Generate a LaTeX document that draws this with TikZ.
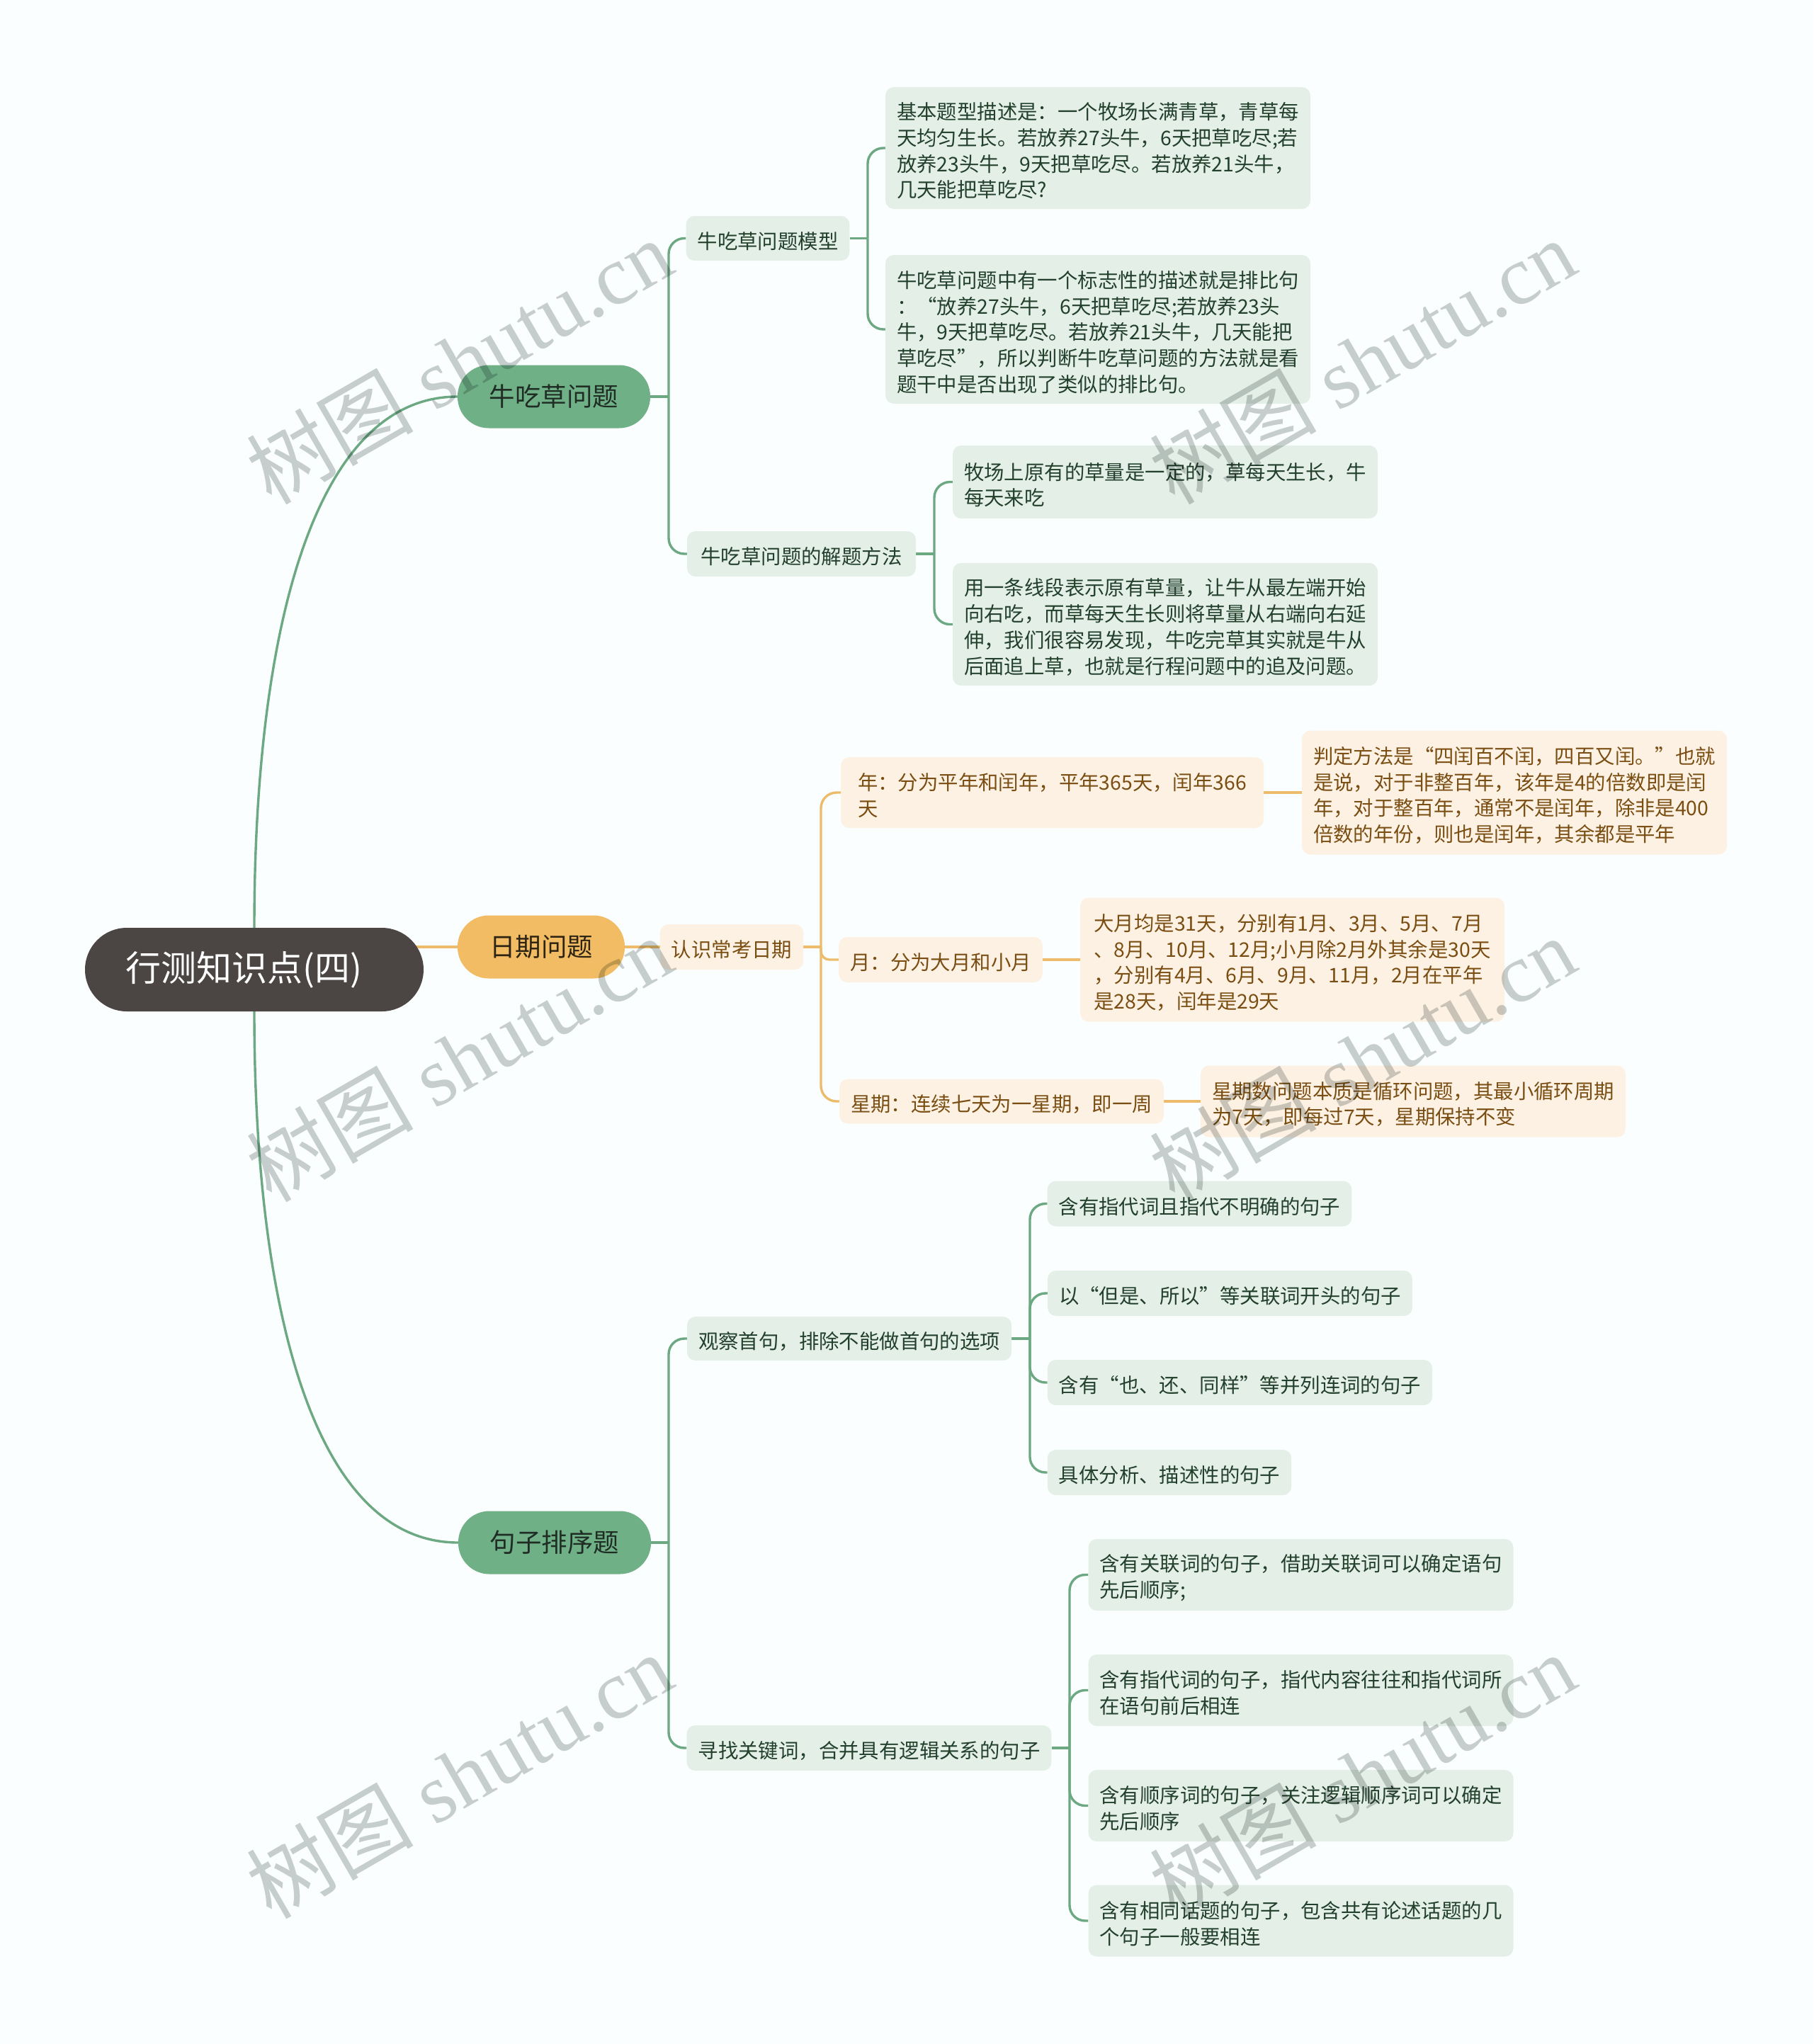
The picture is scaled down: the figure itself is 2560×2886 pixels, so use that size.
\documentclass[tikz,border=0pt]{standalone}
\usepackage{fontspec}
\setmainfont{Noto Sans CJK SC}
\newfontfamily\wmlatin{Liberation Serif}
\newfontfamily\wmcjk{Noto Sans CJK SC}
\usetikzlibrary{backgrounds}
\newcommand\tpad{\rule{0pt}{32pt}}
\definecolor{bgc}{HTML}{FBFEFE}
\definecolor{rootc}{HTML}{4B4544}
\definecolor{gpillc}{HTML}{70B087}
\definecolor{gpilltext}{HTML}{1F2D24}
\definecolor{glinec}{HTML}{6CA982}
\definecolor{gleafc}{HTML}{E4EFE7}
\definecolor{gleaftext}{HTML}{22402B}
\definecolor{opillc}{HTML}{F1BC63}
\definecolor{opilltext}{HTML}{2E2414}
\definecolor{olinec}{HTML}{ECBC6B}
\definecolor{oleafc}{HTML}{FDF1E3}
\definecolor{oleaftext}{HTML}{7A4E12}
\definecolor{wmc}{HTML}{CACECE}
\tikzset{
  pill/.style={rectangle, rounded corners=44pt, minimum height=89pt, inner sep=0pt,
    font=\fontsize{36.5}{44}\selectfont},
  gpill/.style={pill, fill=gpillc, text=gpilltext},
  opill/.style={pill, fill=opillc, text=opilltext},
  rootbox/.style={rectangle, rounded corners=59pt, minimum width=478pt, minimum height=118pt,
    inner sep=0pt, fill=rootc, text=white, font=\fontsize{50}{58}\selectfont},
  leaf/.style={rectangle, rounded corners=12pt, inner xsep=16pt, inner ysep=0pt, align=left,
    font=\fontsize{28.4}{36.7}\selectfont},
  gleaf/.style={leaf, fill=gleafc, text=gleaftext},
  oleaf/.style={leaf, fill=oleafc, text=oleaftext},
  gline/.style={draw=glinec, line width=3.4pt},
  oline/.style={draw=olinec, line width=3.4pt},
  elbow/.style={rounded corners=22pt},
  wm/.style={text=wmc, blend mode=multiply, rotate=30, inner sep=0pt}
}
\begin{document}
\begin{tikzpicture}[x=1pt, y=-1pt]
\useasboundingbox (0,0) rectangle (2560,2886);

% ---------- nodes ----------
\node[rootbox] (root) at (359,1369) {行测知识点(四)\kern30pt};

\node[gpill, minimum width=272pt] (cow) at (782,560) {牛吃草问题};
\node[opill, minimum width=236pt] (date) at (764,1337) {日期问题};
\node[gpill, minimum width=272pt] (sent) at (783,2178) {句子排序题};

% cow branch
\node[gleaf, minimum width=228pt, minimum height=63pt] (m1) at (1084,336.5) {\tpad 牛吃草问题模型};
\node[gleaf, minimum width=323pt, minimum height=64pt] (m2) at (1131.5,782) {\tpad 牛吃草问题的解题方法};
\node[gleaf, minimum width=598pt, minimum height=172pt] (c1) at (1550,209)
 {\tpad 基本题型描述是：一个牧场长满青草，青草每\\天均匀生长。若放养27头牛，6天把草吃尽;若\\放养23头牛，9天把草吃尽。若放养21头牛，\\几天能把草吃尽?};
\node[gleaf, minimum width=598pt, minimum height=210pt] (c2) at (1550,465)
 {\tpad 牛吃草问题中有一个标志性的描述就是排比句\\：“放养27头牛，6天把草吃尽;若放养23头\\牛，9天把草吃尽。若放养21头牛，几天能把\\草吃尽”，所以判断牛吃草问题的方法就是看\\题干中是否出现了类似的排比句。};
\node[gleaf, minimum width=600pt, minimum height=103pt] (c3) at (1645,680.5)
 {\tpad 牧场上原有的草量是一定的，草每天生长，牛\\每天来吃};
\node[gleaf, minimum width=600pt, minimum height=173pt] (c4) at (1645,881.5)
 {\tpad 用一条线段表示原有草量，让牛从最左端开始\\向右吃，而草每天生长则将草量从右端向右延\\伸，我们很容易发现，牛吃完草其实就是牛从\\后面追上草，也就是行程问题中的追及问题。};

% date branch
\node[oleaf, minimum width=200pt, minimum height=64pt] (rec) at (1033,1337) {\tpad 认识常考日期};
\node[oleaf, minimum width=597pt, minimum height=100pt] (yr) at (1485.5,1119)
 {\tpad 年：分为平年和闰年，平年365天，闰年366\\天};
\node[oleaf, minimum width=596pt, minimum height=175pt] (yd) at (2138,1119)
 {\tpad 判定方法是“四闰百不闰，四百又闰。”也就\\是说，对于非整百年，该年是4的倍数即是闰\\年，对于整百年，通常不是闰年，除非是400\\倍数的年份，则也是闰年，其余都是平年};
\node[oleaf, minimum width=282pt, minimum height=64pt] (mo) at (1328,1355) {\tpad 月：分为大月和小月};
\node[oleaf, minimum width=599pt, minimum height=175pt] (md) at (1824.5,1355)
 {\tpad 大月均是31天，分别有1月、3月、5月、7月\\、8月、10月、12月;小月除2月外其余是30天\\，分别有4月、6月、9月、11月，2月在平年\\是28天，闰年是29天};
\node[oleaf, minimum width=454pt, minimum height=63pt] (wk) at (1414,1555) {\tpad 星期：连续七天为一星期，即一周};
\node[oleaf, minimum width=597pt, minimum height=101pt] (wd) at (1995,1555)
 {\tpad 星期数问题本质是循环问题，其最小循环周期\\为7天，即每过7天，星期保持不变};

% sentence branch
\node[gleaf, minimum width=458pt, minimum height=62pt] (s1) at (1199,1890) {\tpad 观察首句，排除不能做首句的选项};
\node[gleaf, minimum width=427pt, minimum height=64pt] (s1a) at (1693.5,1699.5) {\tpad 含有指代词且指代不明确的句子};
\node[gleaf, minimum width=513pt, minimum height=64pt] (s1b) at (1736.5,1826) {\tpad 以“但是、所以”等关联词开头的句子};
\node[gleaf, minimum width=541pt, minimum height=64pt] (s1c) at (1750.5,1952) {\tpad 含有“也、还、同样”等并列连词的句子};
\node[gleaf, minimum width=342pt, minimum height=64pt] (s1d) at (1651,2079) {\tpad 具体分析、描述性的句子};
\node[gleaf, minimum width=512pt, minimum height=64pt] (s2) at (1227,2468) {\tpad 寻找关键词，合并具有逻辑关系的句子};
\node[gleaf, minimum width=597pt, minimum height=101pt] (s2a) at (1836.5,2223.5)
 {\tpad 含有关联词的句子，借助关联词可以确定语句\\先后顺序;};
\node[gleaf, minimum width=597pt, minimum height=101pt] (s2b) at (1836.5,2386.5)
 {\tpad 含有指代词的句子，指代内容往往和指代词所\\在语句前后相连};
\node[gleaf, minimum width=597pt, minimum height=101pt] (s2c) at (1836.5,2549.5)
 {\tpad 含有顺序词的句子，关注逻辑顺序词可以确定\\先后顺序};
\node[gleaf, minimum width=597pt, minimum height=101pt] (s2d) at (1836.5,2712)
 {\tpad 含有相同话题的句子，包含共有论述话题的几\\个句子一般要相连};

% ---------- junction points ----------
\coordinate (jc) at (944,560);
\coordinate (jm1) at (1225,336.5);
\coordinate (jm2) at (1319,782);
\coordinate (jr) at (1159,1337);
\coordinate (js) at (944,2178);
\coordinate (js1) at (1454,1890);
\coordinate (js2) at (1510,2468);

% ---------- connectors (behind nodes) ----------
\begin{scope}[on background layer]
\fill[bgc] (0,0) rectangle (2560,2886);
% root to level 1
\draw[gline] (root.north) .. controls (359,900) and (440,560) .. (cow.west);
\draw[gline] (root.south) .. controls (359,1838) and (440,2178) .. (sent.west);
\draw[oline] (root.center |- date.west) -- (date.west);
% cow
\draw[gline] (cow.east) -- (jc);
\draw[gline, elbow] (jc) |- (m1.west);
\draw[gline, elbow] (jc) |- (m2.west);
\draw[gline] (m1.east) -- (jm1);
\draw[gline, elbow] (jm1) |- (c1.west);
\draw[gline, elbow] (jm1) |- (c2.west);
\draw[gline] (m2.east) -- (jm2);
\draw[gline, elbow] (jm2) |- (c3.west);
\draw[gline, elbow] (jm2) |- (c4.west);
% date
\draw[oline] (date.east) -- (rec.west);
\draw[oline] (rec.east) -- (jr);
\draw[oline, elbow] (jr) |- (yr.west);
\draw[oline, rounded corners=12pt] (jr) |- (mo.west);
\draw[oline, elbow] (jr) |- (wk.west);
\draw[oline] (yr.east) -- (yd.west);
\draw[oline] (mo.east) -- (md.west);
\draw[oline] (wk.east) -- (wd.west);
% sentence
\draw[gline] (sent.east) -- (js);
\draw[gline, elbow] (js) |- (s1.west);
\draw[gline, elbow] (js) |- (s2.west);
\draw[gline] (s1.east) -- (js1);
\draw[gline, elbow] (js1) |- (s1a.west);
\draw[gline, elbow] (js1) |- (s1b.west);
\draw[gline, elbow] (js1) |- (s1c.west);
\draw[gline, elbow] (js1) |- (s1d.west);
\draw[gline] (s2.east) -- (js2);
\draw[gline, elbow] (js2) |- (s2a.west);
\draw[gline, elbow] (js2) |- (s2b.west);
\draw[gline, elbow] (js2) |- (s2c.west);
\draw[gline, elbow] (js2) |- (s2d.west);
\end{scope}

% ---------- watermarks ----------
\foreach \wx/\wy [count=\i] in {648/510, 1923/510, 648/1495, 1923/1495, 648/2507, 1923/2507}{
  \node[wm] (wm\i) at (\wx,\wy) {\fontsize{118}{130}\selectfont\wmcjk 树图\wmlatin\ shutu.cn};
}
\end{tikzpicture}
\end{document}
